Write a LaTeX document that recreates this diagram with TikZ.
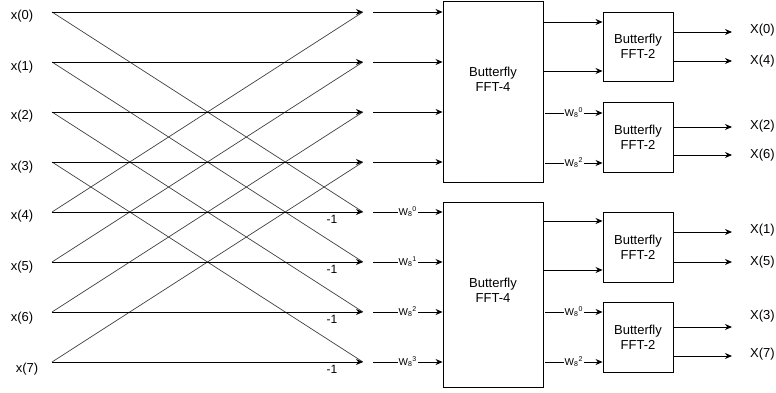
\documentclass[tikz,border=0pt]{standalone}
\usepackage{fontspec}
\setmainfont{Liberation Sans}
\usetikzlibrary{arrows.meta}
\tikzset{
  lbl/.style={inner sep=0pt, font=\fontsize{13}{15}\selectfont},
  arr/.style={draw=black, line width=0.9pt, -{Stealth[length=7pt,width=6pt]}},
  diag/.style={draw=black!75, line width=0.7pt},
  box/.style={draw=black, line width=0.9pt, align=center, font=\fontsize{13}{15}\selectfont, inner sep=0pt},
  wl/.style={fill=white, inner sep=0.8pt, font=\fontsize{10}{11}\selectfont},
  neg/.style={inner sep=0pt, font=\fontsize{12}{14}\selectfont}
}
\newcommand{\Wt}[1]{W\textsubscript{8}\textsuperscript{#1}}
\begin{document}
\begin{tikzpicture}[x=1pt,y=-1pt]
\useasboundingbox (0,0) rectangle (776,392);
% input rows
\foreach \i/\y in {0/12,1/62,2/112,3/162,4/212,5/262,6/312,7/362}{
  \coordinate (s\i) at (52,\y);
  \coordinate (e\i) at (363,\y);
  \coordinate (a\i) at (373,\y);
}
\foreach \i/\y in {0/16,1/67,2/116,3/167,4/216,5/267,6/318}{
  \node[lbl] (x\i) at (22,\y) {x(\i)};
}
\node[lbl] (x7) at (27,369) {x(7)};
% crossing lines
\foreach \i/\j in {0/4,1/5,2/6,3/7}{
  \draw[diag] (s\i) -- (e\j);
  \draw[diag] (s\j) -- (e\i);
}
% straight lines
\foreach \i in {0,...,7}{ \draw[arr] (s\i) -- (e\i); }
\node[neg] (m4) at (332,219) {-1};
\node[neg] (m5) at (332,269) {-1};
\node[neg] (m6) at (332,319) {-1};
\node[neg] (m7) at (332,369) {-1};
% FFT-4 boxes
\node[box, minimum width=100pt, minimum height=181pt] (F1) at (493,91.5) {};
\node[box, minimum width=100pt, minimum height=185pt] (F2) at (493,294.5) {};
\node[lbl, align=center] (T1) at (493,79) {Butterfly\\FFT-4};
\node[lbl, align=center] (T2) at (493,290) {Butterfly\\FFT-4};
% second-stage inputs
\foreach \i in {0,1,2,3}{ \draw[arr] (a\i) -- (a\i -| F1.west); }
\draw[arr] (a4) -- node[wl] {\Wt{0}} (a4 -| F2.west);
\draw[arr] (a5) -- node[wl] {\Wt{1}} (a5 -| F2.west);
\draw[arr] (a6) -- node[wl] {\Wt{2}} (a6 -| F2.west);
\draw[arr] (a7) -- node[wl] {\Wt{3}} (a7 -| F2.west);
% FFT-2 boxes
\node[box, minimum width=70pt, minimum height=69pt] (B1) at (638,46.5) {Butterfly\\FFT-2};
\node[box, minimum width=70pt, minimum height=70pt] (B2) at (638,137) {Butterfly\\FFT-2};
\node[box, minimum width=70pt, minimum height=70pt] (B3) at (638,247) {Butterfly\\FFT-2};
\node[box, minimum width=70pt, minimum height=70pt] (B4) at (638,337) {Butterfly\\FFT-2};
% FFT-4 outputs
\coordinate (o1) at (543,22);
\coordinate (o2) at (543,71);
\coordinate (o3) at (545,113);
\coordinate (o4) at (545,163);
\coordinate (o5) at (543,221);
\coordinate (o6) at (543,270);
\coordinate (o7) at (545,312);
\coordinate (o8) at (545,362);
\draw[arr] (o1) -- (o1 -| B1.west);
\draw[arr] (o2) -- (o2 -| B1.west);
\draw[arr] (o3) -- node[wl] {\Wt{0}} (o3 -| B2.west);
\draw[arr] (o4) -- node[wl] {\Wt{2}} (o4 -| B2.west);
\draw[arr] (o5) -- (o5 -| B3.west);
\draw[arr] (o6) -- (o6 -| B3.west);
\draw[arr] (o7) -- node[wl] {\Wt{0}} (o7 -| B4.west);
\draw[arr] (o8) -- node[wl] {\Wt{2}} (o8 -| B4.west);
% outputs
\foreach \n/\y/\ly/\k in {B1/32/30/0, B1/61/61/4, B2/127/126/2, B2/155/155/6, B3/232/230/1, B3/262/262/5, B4/327/316/3, B4/356/354/7}{
  \coordinate (q\k) at (732,\y);
  \draw[arr] (\n.east |- q\k) -- (q\k);
  \node[lbl, anchor=west] (X\k) at (750,\ly) {X(\k)};
}
\end{tikzpicture}
\end{document}
